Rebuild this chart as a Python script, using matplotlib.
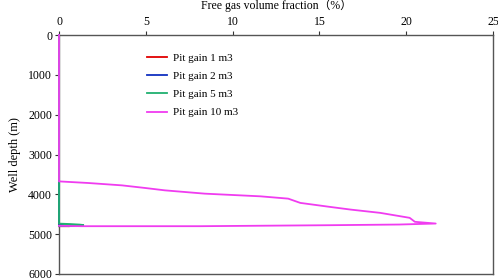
import numpy as np
import matplotlib
matplotlib.use('Agg')
import matplotlib.pyplot as plt

# free gas volume fraction (%) vs well depth (m)
frac_1 = [0, 0, 0.3, 0.5, 0.6, 0]
depth_1 = [0, 4760, 4785, 4795, 4800, 4800]
frac_2 = [0, 0, 0.5, 0.8, 1.0, 0]
depth_2 = [0, 4755, 4780, 4792, 4798, 4798]
frac_5 = [0, 0, 0.6, 1.2, 1.4, 0]
depth_5 = [0, 4735, 4745, 4760, 4770, 4790]
frac_10 = [0, 0, 1.67, 3.63, 4.95, 6.1, 8.4, 11.6, 13.2, 13.9, 15.6, 16.8, 18.5,
           20.2, 20.5, 21.7, 19.6, 15.6, 8.1, 1.3, 0]
depth_10 = [0, 3675, 3715, 3775, 3840, 3900, 3983, 4050, 4108, 4215, 4315, 4383, 4465,
            4590, 4690, 4733, 4758, 4775, 4800, 4800, 4790]

labels = ['Pit gain 1 m3', 'Pit gain 2 m3', 'Pit gain 5 m3', 'Pit gain 10 m3']
colors = ['#e00000', '#1030c0', '#20b070', '#f03cf0']

plt.rcParams['font.family'] = ['Liberation Serif', 'Noto Sans CJK SC']
plt.rcParams['font.size'] = 8.5

fig = plt.figure(figsize=(4.98, 2.8), dpi=100)
ax = fig.add_axes([59 / 498, 1 - 274 / 280, 434 / 498, 239 / 280])

series = [(frac_1, depth_1), (frac_2, depth_2), (frac_5, depth_5), (frac_10, depth_10)]
for (x, y), lab, c in zip(series, labels, colors):
    ax.plot(x, y, color=c, lw=1.3, label=lab, zorder=3, clip_on=False)

ax.set_xlim(0, 25)
ax.set_ylim(6000, 0)
ax.set_xticks([0, 5, 10, 15, 20, 25])
ax.set_yticks(np.arange(0, 6001, 1000))
ax.xaxis.tick_top()
ax.xaxis.set_label_position('top')
ax.tick_params(axis='both', colors='#333333', labelcolor='black', length=3, width=0.8, pad=2)
for s in ax.spines.values():
    s.set_color('#555555')
    s.set_linewidth(1.0)

ax.set_xlabel('Free gas volume fraction（%）', fontsize=8.5, labelpad=5)
ax.set_ylabel('Well depth (m)', fontsize=9, labelpad=5)

ax.legend(loc='upper left', bbox_to_anchor=(0.18, 0.965), frameon=False,
          handlelength=1.8, handletextpad=0.5, labelspacing=0.75, fontsize=8)

fig.savefig('out.png', dpi=100)
